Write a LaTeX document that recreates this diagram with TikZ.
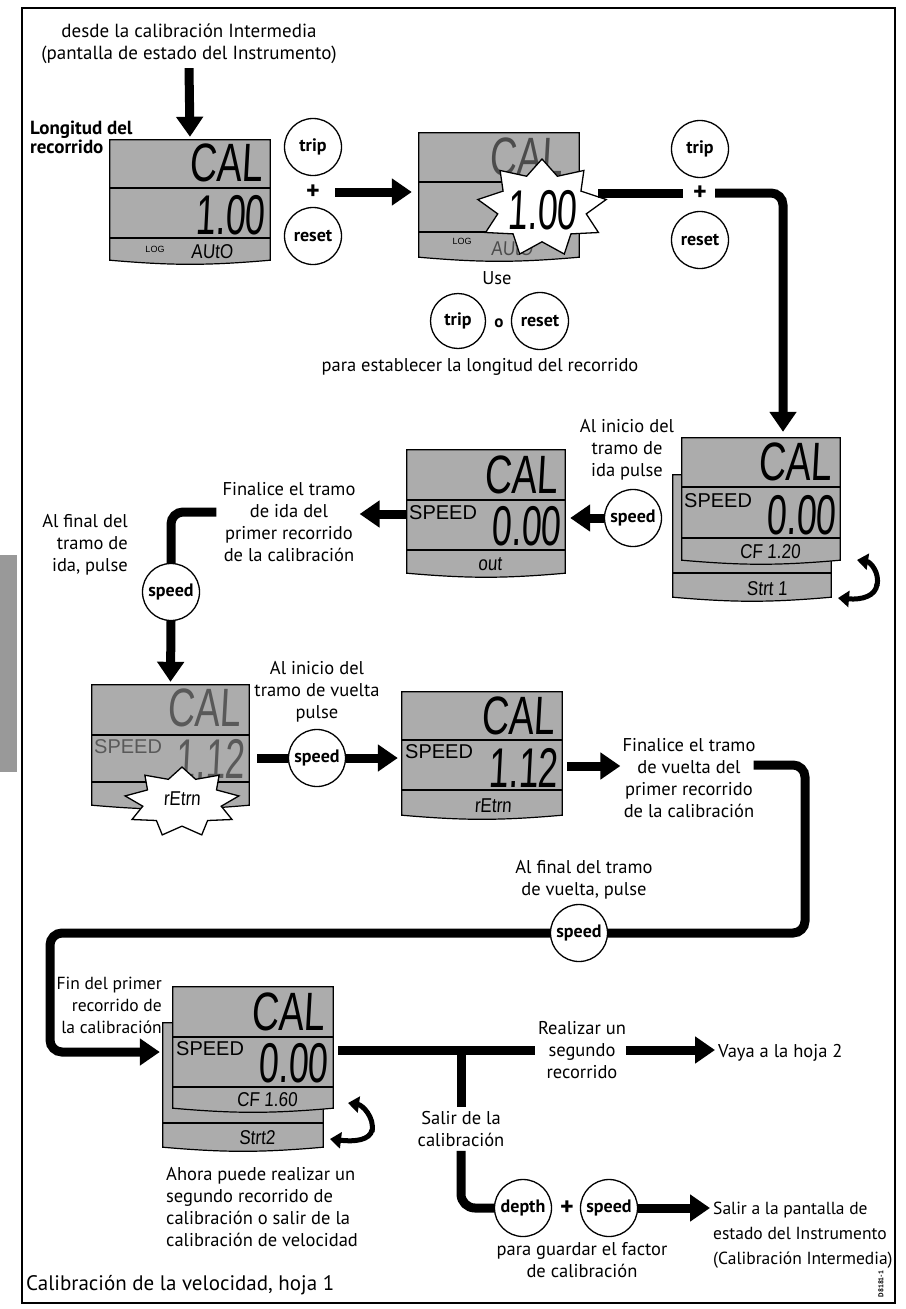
\documentclass[tikz,border=0pt]{standalone}
\usepackage{fontspec}
\setmainfont{PT Sans}
\newfontfamily\lcdf[FakeSlant=0.08]{Liberation Sans}
\newfontfamily\spdf{Liberation Sans}
\usetikzlibrary{arrows.meta,shapes.geometric,fit,calc}
\definecolor{lcdgrey}{RGB}{172,172,172}
\tikzset{
  conn/.style={line width=9pt},
  arr/.style={conn, -{Triangle[length=20pt,width=26pt]}},
  rot/.style={line width=5pt, -{Triangle[length=11pt,width=16pt]}},
  btn/.style={circle, draw, line width=1.3pt, fill=white, minimum size=57pt, inner sep=0pt, font=\bfseries\fontsize{18}{18}\selectfont},
  lbl/.style={align=center, inner sep=0pt, font=\fontsize{18.5}{22}\selectfont},
  plusnode/.style={inner sep=0pt, font=\bfseries\fontsize{26}{26}\selectfont},
  lcdfill/.style={fill=lcdgrey, draw=black, line width=1.2pt},
  lcdline/.style={line width=1.2pt},
  lcdbig/.style={font=\lcdf\fontsize{54}{54}\selectfont, inner sep=0pt, xscale=0.7},
  lcdnum/.style={font=\lcdf\fontsize{56}{56}\selectfont, inner sep=0pt, xscale=0.64},
  lcdsmall/.style={font=\lcdf\fontsize{20}{20}\selectfont, inner sep=0pt, xscale=0.85},
  lcdspd/.style={font=\spdf\fontsize{20}{20}\selectfont, inner sep=0pt, anchor=west},
  lcdlog/.style={font=\spdf\fontsize{9}{9}\selectfont, inner sep=0pt},
  burst/.style={star, star points=9, star point ratio=1.45, draw, line width=1.3pt, fill=white, inner sep=0pt},
}
\newcommand\lcdbox[7]{%
  \coordinate (#1-p) at (#2,#3);
  \coordinate (#1-q) at (#4,#5);
  \node[fit=(#1-p)(#1-q), inner sep=0pt] (#1) {};
  \filldraw[lcdfill] (#1.north west) -- (#1.north east) -- ([yshift=5pt]#1.south east)
     to[bend left=5] ([yshift=5pt]#1.south west) -- cycle;
  \draw[lcdline] (#2,#6) -- (#4,#6);
  \draw[lcdline] (#2,#7) -- (#4,#7);
}
\newcommand\lcdback[6]{%
  \coordinate (#1-p) at (#2,#3);
  \coordinate (#1-q) at (#4,#5);
  \node[fit=(#1-p)(#1-q), inner sep=0pt] (#1) {};
  \filldraw[lcdfill] (#1.north west) -- (#1.north east) -- ([yshift=5pt]#1.south east)
     to[bend left=5] ([yshift=5pt]#1.south west) -- cycle;
  \draw[lcdline] (#2,#6) -- (#4,#6);
}
\begin{document}
\begin{tikzpicture}[x=1pt,y=-1pt]
\useasboundingbox (0,0) rectangle (905,1309);
\fill[white] (0,0) rectangle (905,1309);
\fill[black!40] (0,555) rectangle (17,772);
\draw[line width=1.3pt] (22,8) rectangle (895,1303);

% ---------- top
\node[lbl, font=\fontsize{19}{22}\selectfont] (t0) at (189,44) {desde la calibración Intermedia\\(pantalla de estado del Instrumento)};
\node[lbl, font=\bfseries\fontsize{19}{19}\selectfont, align=left, anchor=west] (lr) at (30,137) {Longitud del\\recorrido};

% display 1
\lcdbox{d1}{110}{140}{270}{265}{188}{238}
\node[lcdbig, anchor=east] (d1t1) at (263,163) {CAL};
\node[lcdnum, anchor=east] (d1t2) at (265,215) {1.00};
\node[lcdlog] (d1t3) at (155,249) {LOG};
\node[lcdsmall] (d1t4) at (212,252) {AUtO};
\draw[arr] ([yshift=-4pt]t0.south) -- ([yshift=3pt]d1.north);

% buttons 1
\node[btn] (trip1) at (313,147) {trip};
\node[btn] (reset1) at (313,236) {reset};
\node[plusnode] (plus1) at (313,192) {+};

% display 2
\lcdbox{d2}{419}{133}{579}{262}{182}{232}
\node[lcdbig, anchor=east, text=black!70] (d2t1) at (563,157) {CAL};
\node[lcdlog] (d2t3) at (462,241) {LOG};
\node[lcdsmall, text=black!70] (d2t4) at (512,249) {AUtO};
\node[burst, minimum size=98pt, xscale=1.33] (b2) at (542,208) {};
\node[lcdnum] (d2t2) at (542,210) {1.00};
\draw[arr] ([xshift=15pt]plus1.east) -- ([xshift=-7pt]plus1.east -| d2.west);

% buttons 3
\node[btn] (trip3) at (700,149) {trip};
\node[btn] (reset3) at (700,240) {reset};
\node[plusnode] (plus3) at (700,193) {+};

% use trip o reset
\node[lbl] (use) at (497,278) {Use};
\node[btn, minimum size=55pt] (trip2) at (458,321) {trip};
\node[lbl, font=\bfseries\fontsize{17}{17}\selectfont] (o) at (499,323) {o};
\node[btn] (reset2) at (540,321) {reset};
\node[lbl] (para) at (480,367) {para establecer la longitud del recorrido};

% display 3 (stacked)
\lcdback{d3b}{673}{475}{831}{602}{573}
\node[lcdsmall] (d3t5) at (767,589) {Strt 1};
\lcdbox{d3}{682}{438}{840}{565}{487}{538}
\node[lcdbig, anchor=east] (d3t1) at (832,462) {CAL};
\node[lcdspd] (d3t2) at (684,501) {SPEED};
\node[lcdnum, anchor=east] (d3t3) at (836,515) {0.00};
\node[lcdsmall] (d3t4) at (770,552) {CF 1.20};
\draw[rot] (877,586) .. controls (880,572) and (870,562) .. (857,560);
\draw[rot] (877,584) .. controls (876,596) and (862,600) .. (838,598);

\draw[conn] ([xshift=19pt]d2.east |- plus3) -- ([xshift=-10pt]plus3.west);
\draw[arr, rounded corners=12pt] ([xshift=8pt]plus3.east) -| ([xshift=22pt,yshift=6pt]d3.north);

% speed 1
\node[lbl] (ini1) at (627,450) {Al inicio del\\tramo de\\ida pulse};
\node[btn] (speed1) at (633,518) {speed};

% display 4
\lcdbox{d4}{407}{450}{565}{578}{500}{550}
\node[lcdbig, anchor=east] (d4t1) at (558,475) {CAL};
\node[lcdspd] (d4t2) at (409,513) {SPEED};
\node[lcdnum, anchor=east] (d4t3) at (561,526) {0.00};
\node[lcdsmall] (d4t4) at (490,564) {out};
\draw[arr] (speed1.west) -- ([xshift=5pt]speed1.west -| d4.east);

% finalice 1
\node[lbl] (fin1) at (289,522) {Finalice el tramo\\de ida del\\primer recorrido\\de la calibración};
\draw[arr] (d4.west) -- ([xshift=4pt]fin1.east |- d4.west);
\node[btn] (speed2) at (171,592) {speed};
\node[lbl, align=right, anchor=east] (alf1) at (128,545) {Al final del\\tramo de\\ida, pulse};
\draw[conn, rounded corners=12pt] ([xshift=-6pt,yshift=10pt]fin1.west) -| (speed2.north);

% display 5
\lcdbox{d5}{92}{685}{249}{810}{735}{782}
\node[lcdbig, anchor=east, text=black!65] (d5t1) at (241,708) {CAL};
\node[lcdspd, text=black!65] (d5t2) at (94,747) {SPEED};
\node[lcdnum, anchor=east, text=black!65] (d5t3) at (245,759) {1.12};
\node[burst, minimum size=70pt, xscale=1.65] (b5) at (182,802) {};
\node[lcdsmall] (d5t4) at (182,799) {rEtrn};
\draw[arr] (speed2.south) -- ([yshift=3pt]d5.north);

% speed 3
\node[lbl] (ini2) at (317,692) {Al inicio del\\tramo de vuelta\\pulse};
\node[btn] (speed3) at (317,758) {speed};

% display 6
\lcdbox{d6}{402}{692}{562}{820}{740}{790}
\node[lcdbig, anchor=east] (d6t1) at (555,716) {CAL};
\node[lcdspd] (d6t2) at (405,752) {SPEED};
\node[lcdnum, anchor=east] (d6t3) at (558,768) {1.12};
\node[lcdsmall] (d6t4) at (493,806) {rEtrn};
\draw[conn] ([xshift=8pt]d5.east |- speed3) -- (speed3.west);
\draw[arr] (speed3.east) -- ([xshift=-4pt]speed3.east -| d6.west);

% finalice 2
\node[lbl] (fin2) at (689,778) {Finalice el tramo\\de vuelta del\\primer recorrido\\de la calibración};
\draw[arr] ([xshift=5pt,yshift=-10pt]d6.east) -- ([xshift=-2pt,yshift=-10pt]d6.east -| fin2.west);
\node[lbl] (alf2) at (584,880) {Al final del tramo\\de vuelta, pulse};
\node[btn] (speed4) at (579,933) {speed};
\coordinate (c1) at (805,933);
\coordinate (c2) at (50,933);
\coordinate (c3) at (50,1052);

% display 7 (stacked)
\lcdback{d7b}{163}{1023}{323}{1152}{1123}
\node[lcdsmall] (d7t5) at (257,1138) {Strt2};
\lcdbox{d7}{173}{987}{333}{1113}{1037}{1087}
\node[lcdbig, anchor=east] (d7t1) at (325,1012) {CAL};
\node[lcdspd] (d7t2) at (176,1049) {SPEED};
\node[lcdnum, anchor=east] (d7t3) at (328,1063) {0.00};
\node[lcdsmall] (d7t4) at (267,1100) {CF 1.60};
\draw[rot] (372,1132) .. controls (375,1117) and (362,1105) .. (348,1103);
\draw[rot] (372,1130) .. controls (370,1140) and (355,1142) .. (330,1139);

\draw[conn, rounded corners=12pt] ([xshift=-2pt,yshift=13pt]fin2.east) -| (c1) -- (speed4.east);
\draw[arr, rounded corners=12pt] (speed4.west) -- (c2) -- (c3) -- ([xshift=-3pt]c3 -| d7b.west);
\node[lbl, align=right, anchor=east, font=\fontsize{17.5}{22}\selectfont] (finp) at (162,1005) {Fin del primer\\recorrido de\\la calibración};

% branch
\node[lbl] (real) at (582,1050) {Realizar un\\segundo\\recorrido};
\node[lbl, anchor=west] (vaya) at (718,1053) {Vaya a la hoja 2};
\coordinate (jn) at (461,1050);
\draw[conn] ([xshift=5pt]d7.east) -- ([xshift=-3pt]real.west |- d7.east);
\draw[arr] (real.east) -- ([xshift=-3pt]real.east -| vaya.west);
\node[lbl] (salir) at (461,1129) {Salir de la\\calibración};
\node[btn] (depth) at (523,1208) {depth};
\node[plusnode] (plus4) at (567,1208) {+};
\node[btn] (speed5) at (609,1208) {speed};
\draw[conn] (jn) -- ([yshift=4pt]salir.north);
\draw[conn, rounded corners=14pt] ([yshift=-4pt]salir.south) |- (depth.west);
\node[lbl, align=left, anchor=west, font=\fontsize{17.5}{25}\selectfont] (salirA) at (713,1235) {Salir a la pantalla de\\estado del Instrumento\\(Calibración Intermedia)};
\draw[arr] (speed5.east) -- ([xshift=-3pt]speed5.east -| salirA.west);
\node[lbl] (para2) at (582,1260) {para guardar el factor\\de calibración};

\node[lbl, align=left, anchor=west] (ahora) at (166,1207) {Ahora puede realizar un\\segundo recorrido de\\calibración o salir de la\\calibración de velocidad};
\node[lbl, anchor=west, font=\fontsize{21}{21}\selectfont] (title) at (26,1285) {Calibración de la velocidad, hoja 1};
\node[rotate=90, font=\bfseries\fontsize{7}{7}\selectfont, inner sep=0pt] (code) at (881,1284) {D8181-1};
\end{tikzpicture}
\end{document}
